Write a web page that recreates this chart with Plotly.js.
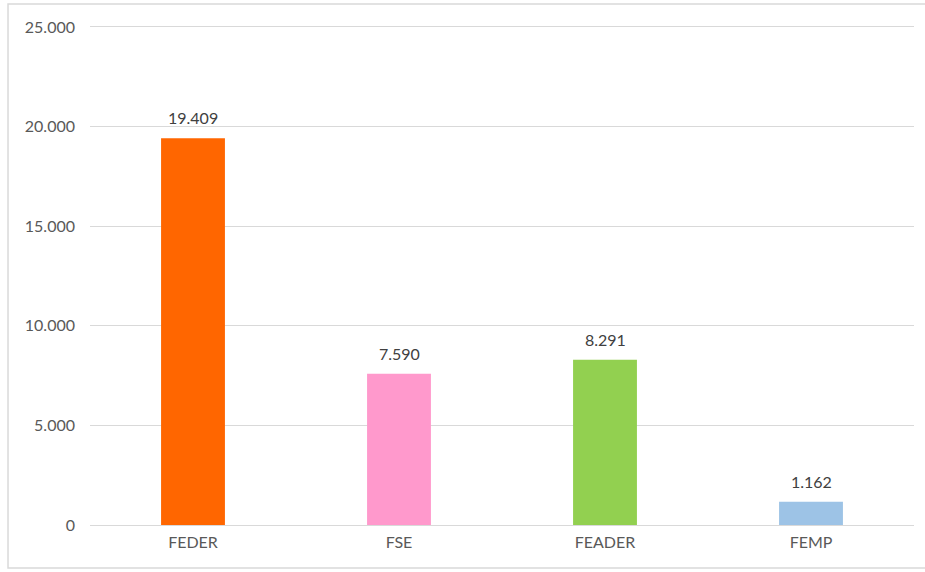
<!DOCTYPE html>
<html>
<head>
<meta charset="utf-8">
<script src="https://cdn.plot.ly/plotly-3.0.1.min.js"></script>
<style>
html,body{margin:0;padding:0;background:#fff;}
#chart{width:925px;height:572px;}
</style>
</head>
<body>
<div id="chart"></div>
<script>
const categories = ["FEDER", "FSE", "FEADER", "FEMP"];
const values = [19409, 7590, 8291, 1162];
const barColors = ["#FF6600", "#FF99CC", "#92D050", "#9DC3E6"];
const yTicks = [0, 5000, 10000, 15000, 20000, 25000];

const font = {family: "Lato, Liberation Sans, Arial, sans-serif", size: 16, color: "#595959"};

const trace = {
  type: "bar",
  x: categories,
  y: values,
  marker: {color: barColors},
  hoverinfo: "skip"
};

const annotations = categories.map((c, i) => ({
  x: c, y: values[i], xref: "x", yref: "y",
  text: values[i].toLocaleString("de-DE"),
  showarrow: false, yanchor: "bottom", yshift: 9,
  font: {family: font.family, size: 16, color: "#404040"}
}));

const layout = {
  width: 925, height: 572,
  margin: {l: 90, r: 11, t: 24, b: 47},
  separators: ",.",
  paper_bgcolor: "#fff",
  plot_bgcolor: "#fff",
  font: font,
  showlegend: false,
  bargap: 0.69,
  xaxis: {
    showgrid: false, showline: false, zeroline: false,
    ticks: "", tickfont: font, ticklabelstandoff: 6
  },
  yaxis: {
    range: [0, 25150],
    tickvals: yTicks,
    tickformat: ",d",
    showgrid: true, gridcolor: "#D9D9D9", gridwidth: 1,
    zeroline: true, zerolinecolor: "#D9D9D9", zerolinewidth: 1,
    showline: false, ticks: "",
    tickfont: font, ticklabelstandoff: 14
  },
  annotations: annotations,
  shapes: [{
    type: "rect", xref: "paper", yref: "paper",
    x0: -0.0995, x1: 1.05, y0: -0.0858, y1: 1.0399,
    line: {color: "#D9D9D9", width: 1.5}, fillcolor: "rgba(0,0,0,0)", layer: "below"
  }]
};

Plotly.newPlot("chart", [trace], layout, {displayModeBar: false, staticPlot: true});
</script>
</body>
</html>
